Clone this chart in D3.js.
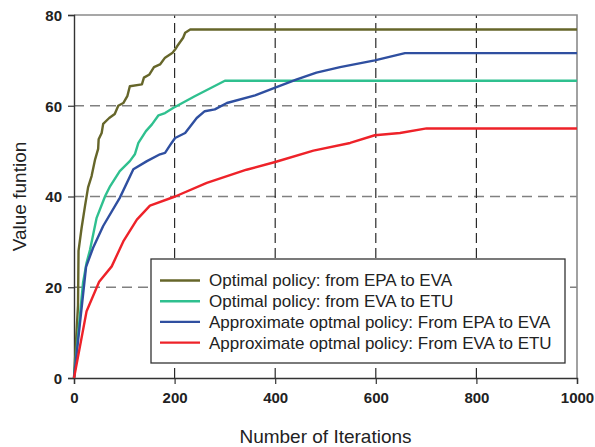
<!DOCTYPE html>
<html>
<head>
<meta charset="utf-8">
<script src="https://cdn.jsdelivr.net/npm/d3@7"></script>
<style>
  body { margin: 0; background: #fff; }
  text { font-family: "Liberation Sans", Arial, sans-serif; }
</style>
</head>
<body>
<script>
var width = 595,
    height = 447;

var margin = {top: 15, right: 18, bottom: 69, left: 74};

// [iteration, value]
var optEpaEva = [[0,0],[8,16],[9,28],[15,33],[22,38],[28,42],[35,44.5],[42,48.2],[48,50.5],[49,52.6],
  [55,54],[58,56],[70,57.3],[81,58.2],[88,60],[98,60.6],[106,62.1],[111,64.3],[135,64.7],[139,66.2],
  [150,66.9],[159,68.5],[171,69.1],[181,70.6],[196,71.7],[201,72.4],[205,73.1],[217,75],[221,76.1],
  [231,76.8],[1000,76.8]];
var optEvaEtu = [[0,0],[18,21],[25,25.4],[32,28.3],[45,35.3],[62,40.1],[72,42.3],[91,45.6],[111,47.8],
  [121,49.3],[128,51.8],[143,54.4],[155,55.9],[168,57.9],[181,58.4],[197,59.5],[240,62.1],[300,65.5],
  [1000,65.5]];
var apxEpaEva = [[0,0],[24,24.5],[38,28.7],[58,33.5],[91,39.7],[118,46],[145,47.8],[171,49.3],[181,49.6],
  [194,51.8],[201,52.9],[221,54],[244,57.3],[260,58.8],[280,59.2],[304,60.6],[360,62.3],[400,64],
  [443,65.8],[482,67.3],[529,68.5],[598,70],[658,71.6],[1000,71.6]];
var apxEvaEtu = [[0,0],[25,14.7],[50,21.2],[75,24.6],[98,30.1],[125,34.9],[151,38],[201,40],[264,43],
  [343,45.9],[400,47.6],[476,50.1],[549,51.8],[598,53.5],[648,54],[701,55],[1000,55]];

var seriesNames = ["Optimal policy: from EPA to EVA", "Optimal policy: from EVA to ETU",
  "Approximate optmal policy: From EPA to EVA", "Approximate optmal policy: From EVA to ETU"];
var seriesColors = ["#66662a", "#2fc08f", "#2f4fa0", "#ee2229"];
var seriesData = [optEpaEva, optEvaEtu, apxEpaEva, apxEvaEtu];

var xTicks = [0, 200, 400, 600, 800, 1000];
var yTicks = [0, 20, 40, 60, 80];

var svg = d3.select("body").append("svg")
    .attr("width", width)
    .attr("height", height);

var x = d3.scaleLinear().domain([0, 1000]).range([margin.left, width - margin.right]);
var y = d3.scaleLinear().domain([0, 80]).range([height - margin.bottom, margin.top]);

// grid
svg.selectAll(".hgrid")
    .data(yTicks.slice(1, -1))
  .enter().append("line")
    .attr("x1", x(0)).attr("x2", x(1000))
    .attr("y1", d => y(d)).attr("y2", d => y(d))
    .attr("stroke", "#808080")
    .attr("stroke-width", 1.6)
    .attr("stroke-dasharray", "10,6");

svg.selectAll(".vgrid")
    .data(xTicks.slice(1, -1))
  .enter().append("line")
    .attr("x1", d => x(d)).attr("x2", d => x(d))
    .attr("y1", y(0)).attr("y2", y(80))
    .attr("stroke", "#2a2a2a")
    .attr("stroke-width", 1.2)
    .attr("stroke-dasharray", "10,5");

// frame (top + right gray)
svg.append("path")
    .attr("d", "M" + x(0) + "," + y(80) + "H" + x(1000) + "V" + y(0))
    .attr("fill", "none")
    .attr("stroke", "#8a8a8a")
    .attr("stroke-width", 1.6);

// axes
var xAxis = svg.append("g")
    .attr("transform", "translate(0," + y(0) + ")")
    .call(d3.axisBottom(x).tickValues(xTicks).tickSize(6).tickPadding(8).tickFormat(d3.format("d")));
var yAxis = svg.append("g")
    .attr("transform", "translate(" + x(0) + ",0)")
    .call(d3.axisLeft(y).tickValues(yTicks).tickSize(6).tickPadding(6).tickFormat(d3.format("d")));

[xAxis, yAxis].forEach(function(g) {
  g.select(".domain").attr("stroke", "#333").attr("stroke-width", 1.4);
  g.selectAll(".tick line").attr("stroke", "#333").attr("stroke-width", 1.2);
  g.selectAll(".tick text")
      .attr("fill", "#222")
      .style("font-family", "'Liberation Sans', Arial, sans-serif")
      .style("font-size", "15px")
      .style("font-weight", "bold");
});
yAxis.selectAll(".tick text").attr("dy", "0.36em");

// lines
var line = d3.line()
    .x(function(d) { return x(d[0]); })
    .y(function(d) { return y(d[1]); });

svg.selectAll(".series")
    .data(seriesData)
  .enter().append("path")
    .attr("class", "series")
    .attr("d", line)
    .attr("fill", "none")
    .attr("stroke", function(d, i) { return seriesColors[i]; })
    .attr("stroke-width", 2.4)
    .attr("stroke-linejoin", "round");

// legend
var lg = svg.append("g").attr("transform", "translate(151,259)");
lg.append("rect")
    .attr("width", 414)
    .attr("height", 104)
    .attr("fill", "#fff")
    .attr("stroke", "#333")
    .attr("stroke-width", 1.3);

var item = lg.selectAll(".item")
    .data(seriesNames)
  .enter().append("g")
    .attr("transform", function(d, i) { return "translate(0," + (21.5 + i * 20.7) + ")"; });
item.append("line")
    .attr("x1", 9).attr("x2", 49)
    .attr("stroke", function(d, i) { return seriesColors[i]; })
    .attr("stroke-width", 2.4);
item.append("text")
    .attr("x", 58)
    .attr("dy", "0.35em")
    .attr("fill", "#222")
    .style("font-size", "17px")
    .text(function(d) { return d; });

// axis titles
svg.append("text")
    .attr("x", (x(0) + x(1000)) / 2)
    .attr("y", 443)
    .attr("text-anchor", "middle")
    .attr("fill", "#222")
    .style("font-size", "19px")
    .text("Number of Iterations");

svg.append("text")
    .attr("transform", "translate(26," + y(40) + ") rotate(-90)")
    .attr("text-anchor", "middle")
    .attr("fill", "#222")
    .style("font-size", "19px")
    .text("Value funtion");
</script>
</body>
</html>
